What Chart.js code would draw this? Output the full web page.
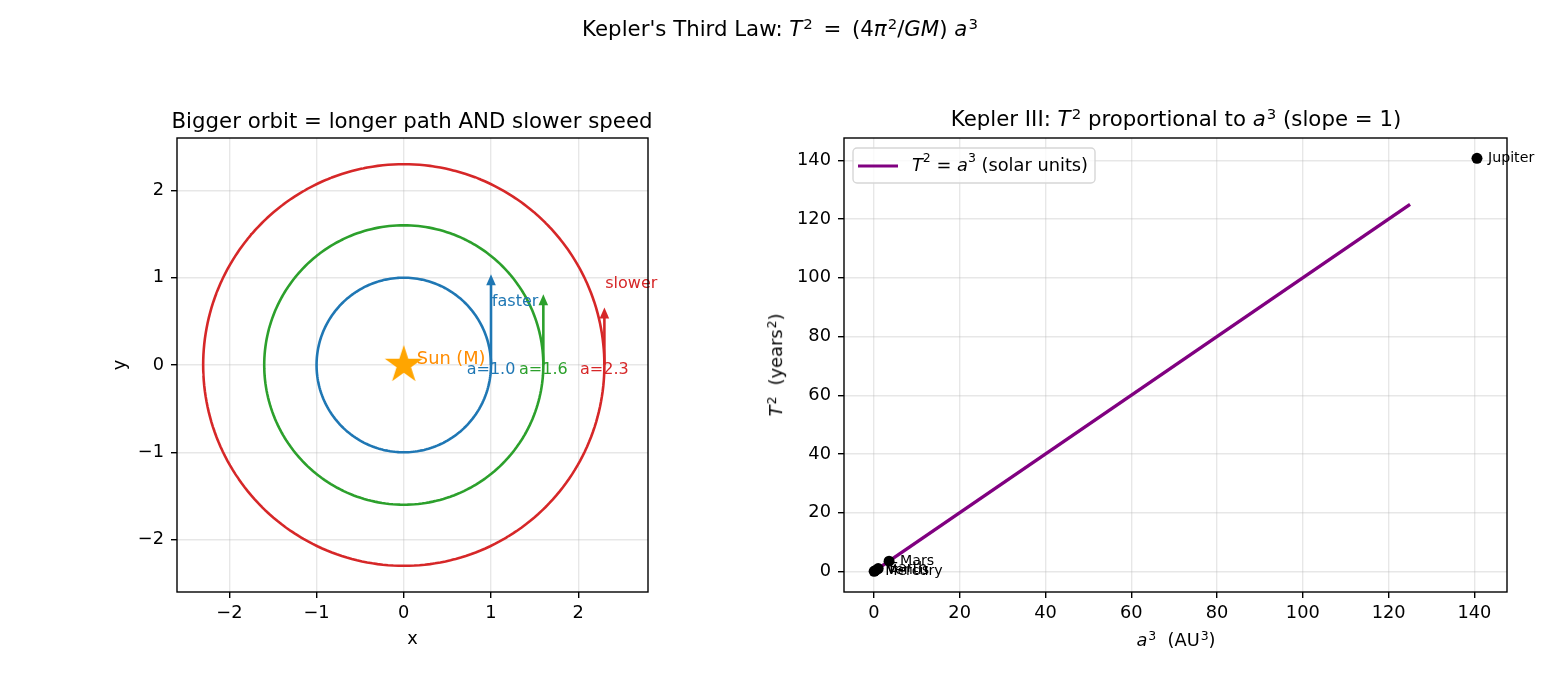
<!DOCTYPE html>
<html><head><meta charset="utf-8">
<script src="https://cdn.jsdelivr.net/npm/chart.js@4.4.1/dist/chart.umd.min.js"></script>
<style>
body{margin:0;background:#fff;font-family:"DejaVu Sans",sans-serif;}
#wrap{position:relative;width:1560px;height:676px;overflow:hidden;background:#fff;}
canvas{position:absolute;top:0;}
.t{position:absolute;white-space:nowrap;color:#000;line-height:1;transform:translate(-50%,-50%);}
.t sup{font-size:70%;vertical-align:0;position:relative;top:-0.5em;margin-left:1px;}
</style></head><body>
<div id="wrap">
<canvas id="c1" width="760" height="676" style="left:0"></canvas>
<canvas id="c2" width="800" height="676" style="left:760px"></canvas>
<div class="t" style="left:780px;top:29px;font-size:21.3px">Kepler's Third Law: <i>T</i><sup>2</sup>&ensp;=&ensp;(4<i>π</i><sup>2</sup>/<i>GM</i>)&nbsp;<i>a</i><sup>3</sup></div>
<div class="t" style="left:412px;top:121px;font-size:21.3px">Bigger orbit = longer path AND slower speed</div>
<div class="t" style="left:1176px;top:119px;font-size:21.3px">Kepler III: <i>T</i><sup>2</sup> proportional to <i>a</i><sup>3</sup> (slope = 1)</div>
<div class="t" style="left:1176px;top:640px;font-size:17.8px"><i>a</i><sup>3</sup>&nbsp;&nbsp;(AU<sup>3</sup>)</div>
<div class="t" style="left:776px;top:365px;font-size:17.8px;transform:translate(-50%,-50%) rotate(-90deg)"><i>T</i><sup>2</sup>&nbsp;&nbsp;(years<sup>2</sup>)</div>
</div>
<script>
// ---- data ----
const orbitRadii = [1.0, 1.6, 2.3];
const orbitSpeeds = [1.04, 0.81, 0.66];
const orbitLabels = ['a=1.0', 'a=1.6', 'a=2.3'];
const orbitColors = ['#1f77b4', '#2ca02c', '#d62728'];
const sunPos = [0, 0];
const leftTicks = [-2, -1, 0, 1, 2];

const planetNames = ['Mercury', 'Venus', 'Earth', 'Mars', 'Jupiter'];
const planetA3 = [0.058, 0.378, 1.0, 3.54, 140.6];
const planetT2 = [0.058, 0.378, 1.0, 3.54, 140.7];
const lawLineX = [0.027, 125];
const lawLineY = [0.027, 125];
const rightTicks = [0, 20, 40, 60, 80, 100, 120, 140];

Chart.defaults.font.family = 'DejaVu Sans';
Chart.defaults.font.size = 17.8;
Chart.defaults.color = '#000';

const GRID = 'rgba(176,176,176,0.3)';
const fmt = v => (v < 0 ? '\u2212' + Math.abs(v) : String(v));

function makeScale(min, max, ticks, afterFit, title, pad) {
  return {
    type: 'linear', min, max,
    afterBuildTicks: s => { s.ticks = ticks.map(v => ({ value: v })); },
    afterFit,
    ticks: { callback: fmt, padding: pad, autoSkip: false, maxRotation: 0 },
    grid: { color: GRID, lineWidth: 1.4, tickColor: '#000', tickLength: 6, tickWidth: 1.4 },
    border: { display: false },
    title: title ? { display: true, text: title, padding: 0, font: { size: 17.8 } } : { display: false }
  };
}

const spinePlugin = {
  id: 'spines',
  afterDraw(chart) {
    const { ctx, chartArea: a } = chart;
    ctx.save();
    ctx.strokeStyle = '#000';
    ctx.lineWidth = 1.4;
    ctx.strokeRect(a.left, a.top, a.right - a.left, a.bottom - a.top);
    ctx.restore();
  }
};

// star marker
const star = document.createElement('canvas');
star.width = 44; star.height = 44;
(function () {
  const c = star.getContext('2d');
  const R = 20, r = R * 0.381966, cx = 22, cy = 22;
  c.beginPath();
  for (let i = 0; i < 10; i++) {
    const ang = -Math.PI / 2 + i * Math.PI / 5;
    const rad = i % 2 === 0 ? R : r;
    const x = cx + rad * Math.cos(ang), y = cy + rad * Math.sin(ang);
    if (i === 0) c.moveTo(x, y); else c.lineTo(x, y);
  }
  c.closePath();
  c.fillStyle = '#ffa500';
  c.fill();
})();

// circle outlines from radii
function circlePts(r) {
  const pts = [];
  for (let i = 0; i <= 240; i++) {
    const t = 2 * Math.PI * i / 240;
    pts.push({ x: r * Math.cos(t), y: r * Math.sin(t) });
  }
  return pts;
}

const leftDatasets = [
  { label: 'Sun', data: [{ x: sunPos[0], y: sunPos[1] }], pointStyle: star, showLine: false, order: 0, pointRadius: 20 }
];
orbitRadii.forEach((r, i) => {
  leftDatasets.push({ label: 'orbit' + i, data: circlePts(r), borderColor: orbitColors[i], borderWidth: 2.6,
    pointRadius: 0, showLine: true, fill: false, order: 2, tension: 0.000001 });
  leftDatasets.push({ label: 'v' + i, data: [{ x: r, y: 0 }, { x: r, y: orbitSpeeds[i] - 0.06 }], borderColor: orbitColors[i],
    borderWidth: 2.6, pointRadius: 0, showLine: true, fill: false, order: 1 });
});

const leftText = {
  id: 'leftText',
  afterDatasetsDraw(chart) {
    const { ctx, scales: { x, y } } = chart;
    ctx.save();
    orbitRadii.forEach((r, i) => {
      const px = x.getPixelForValue(r), py = y.getPixelForValue(orbitSpeeds[i]);
      ctx.fillStyle = orbitColors[i];
      ctx.beginPath();
      ctx.moveTo(px, py);
      ctx.lineTo(px - 4.8, py + 11);
      ctx.lineTo(px + 4.8, py + 11);
      ctx.closePath();
      ctx.fill();
      ctx.font = '16px "DejaVu Sans"';
      ctx.textAlign = 'center'; ctx.textBaseline = 'middle';
      ctx.fillText(orbitLabels[i], px, y.getPixelForValue(-0.05));
    });
    ctx.font = '16px "DejaVu Sans"';
    ctx.textAlign = 'left'; ctx.textBaseline = 'middle';
    ctx.fillStyle = orbitColors[0];
    ctx.fillText('faster', x.getPixelForValue(1.01), y.getPixelForValue(0.72));
    ctx.fillStyle = orbitColors[2];
    ctx.fillText('slower', x.getPixelForValue(2.31), y.getPixelForValue(0.93));
    ctx.font = '17.8px "DejaVu Sans"';
    ctx.fillStyle = '#ff8c00';
    ctx.fillText('Sun (M)', x.getPixelForValue(0.15), y.getPixelForValue(0.06));
    ctx.restore();
  }
};

new Chart(document.getElementById('c1'), {
  type: 'scatter',
  data: { datasets: leftDatasets },
  options: {
    responsive: false, animation: false, devicePixelRatio: 1,
    layout: { padding: { left: 110, right: 112, top: 138, bottom: 26 } },
    plugins: { legend: { display: false }, tooltip: { enabled: false } },
    scales: {
      x: makeScale(-2.6, 2.8, leftTicks, s => { s.height = 58; }, 'x', 5),
      y: makeScale(-2.6, 2.6, leftTicks, s => { s.width = 67; }, 'y', 7)
    }
  },
  plugins: [leftText, spinePlugin]
});

const rightText = {
  id: 'rightText',
  afterDraw(chart) {
    const { ctx, scales: { x, y }, chartArea: a } = chart;
    ctx.save();
    ctx.font = '14.2px "DejaVu Sans"';
    ctx.fillStyle = '#000';
    ctx.textAlign = 'left'; ctx.textBaseline = 'middle';
    planetNames.forEach((n, i) => {
      ctx.fillText(n, x.getPixelForValue(planetA3[i]) + 11, y.getPixelForValue(planetT2[i]));
    });
    // legend
    const lx = a.left + 9, ly = a.top + 10, lw = 242, lh = 35;
    ctx.beginPath();
    ctx.roundRect(lx, ly, lw, lh, 4);
    ctx.fillStyle = 'rgba(255,255,255,0.8)';
    ctx.fill();
    ctx.strokeStyle = '#d6d6d6';
    ctx.lineWidth = 1.4;
    ctx.stroke();
    ctx.strokeStyle = '#800080';
    ctx.lineWidth = 3.2;
    ctx.beginPath();
    ctx.moveTo(lx + 5, ly + 18); ctx.lineTo(lx + 45, ly + 18);
    ctx.stroke();
    let tx = lx + 59; const ty = ly + 18;
    ctx.fillStyle = '#000';
    const parts = [
      ['italic 17.8px "DejaVu Sans"', 'T', 0],
      ['12.5px "DejaVu Sans"', '2', -7],
      ['17.8px "DejaVu Sans"', ' = ', 0],
      ['italic 17.8px "DejaVu Sans"', 'a', 0],
      ['12.5px "DejaVu Sans"', '3', -7],
      ['17.8px "DejaVu Sans"', ' (solar units)', 0]
    ];
    parts.forEach(([f, s, dy]) => {
      ctx.font = f;
      ctx.fillText(s, tx, ty + dy);
      tx += ctx.measureText(s).width;
    });
    ctx.restore();
  }
};

new Chart(document.getElementById('c2'), {
  type: 'scatter',
  data: {
    datasets: [
      { label: 'planets', data: planetA3.map((v, i) => ({ x: v, y: planetT2[i] })), backgroundColor: '#000',
        borderColor: '#000', pointRadius: 5.5, borderWidth: 0, showLine: false, order: 0 },
      { label: 'T2=a3', data: lawLineX.map((v, i) => ({ x: v, y: lawLineY[i] })), borderColor: '#800080',
        borderWidth: 3.4, pointRadius: 0, showLine: true, order: 1 }
    ]
  },
  options: {
    responsive: false, animation: false, devicePixelRatio: 1,
    layout: { padding: { left: 5, right: 53, top: 138, bottom: 26 } },
    plugins: { legend: { display: false }, tooltip: { enabled: false } },
    scales: {
      x: makeScale(-6.97, 147.6, rightTicks, s => { s.height = 58; }, null, 5),
      y: makeScale(-6.97, 147.6, rightTicks, s => { s.width = 79; }, null, 7)
    }
  },
  plugins: [rightText, spinePlugin]
});
</script>
</body></html>
